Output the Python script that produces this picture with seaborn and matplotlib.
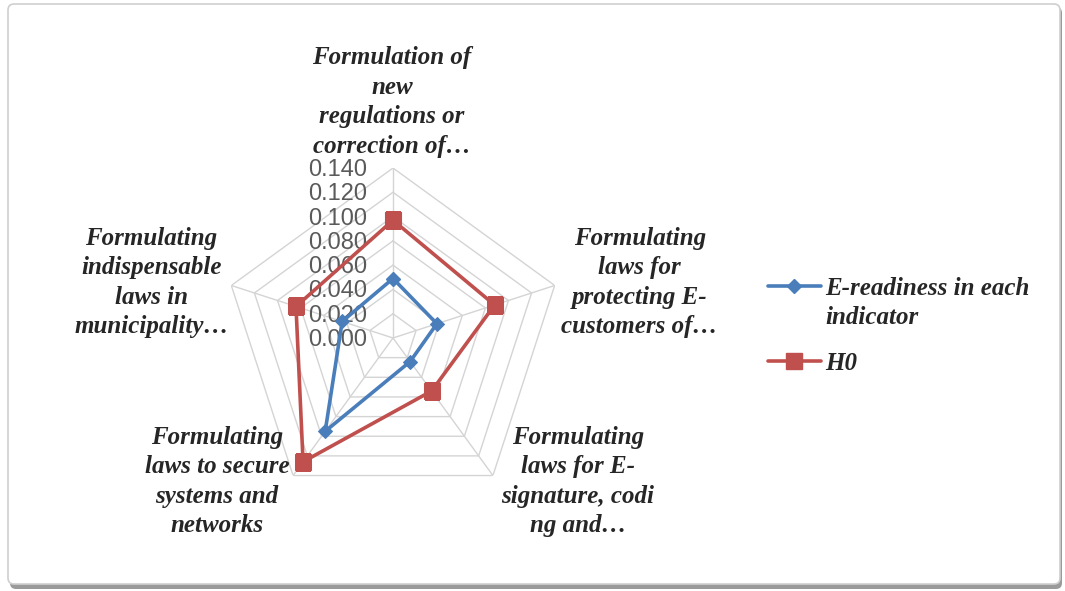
import numpy as np
import pandas as pd
import matplotlib
matplotlib.use("Agg")
import matplotlib.pyplot as plt
from matplotlib.patches import FancyBboxPatch
from matplotlib.lines import Line2D
import seaborn as sns

# Indicators (axis labels) and the two series
categories = [
    "Formulation of\nnew\nregulations or\ncorrection of…",
    "Formulating\nlaws for\nprotecting E-\ncustomers of…",
    "Formulating\nlaws for E-\nsignature, codi\nng and…",
    "Formulating\nlaws to secure\nsystems and\nnetworks",
    "Formulating\nindispensable\nlaws in\nmunicipality…",
]
e_readiness = [0.049, 0.038, 0.024, 0.095, 0.044]
h0 = [0.097, 0.088, 0.054, 0.126, 0.084]
series_names = ["E-readiness in each indicator", "H0"]
tick_values = [0.000, 0.020, 0.040, 0.060, 0.080, 0.100, 0.120, 0.140]

sns.set_style("white")
plt.rcParams["font.family"] = ["Liberation Serif", "DejaVu Serif"]

W, H, DPI = 1065, 591, 100
fig = plt.figure(figsize=(W / DPI, H / DPI), dpi=DPI)
fig.patch.set_facecolor("white")

# Outer chart frame with a soft drop shadow
shadow = FancyBboxPatch((0.10, 0.02), 10.52, 5.82,
                        boxstyle="round,pad=0,rounding_size=0.06",
                        transform=fig.dpi_scale_trans, facecolor="#9a9a9a",
                        edgecolor="none", zorder=-2)
frame = FancyBboxPatch((0.08, 0.07), 10.52, 5.80,
                       boxstyle="round,pad=0,rounding_size=0.06",
                       transform=fig.dpi_scale_trans, facecolor="white",
                       edgecolor="#cfcfcf", linewidth=1.2, zorder=-1)
fig.add_artist(shadow)
fig.add_artist(frame)

# Radar axes: centre at (393, 338) px from top, radius 170 px
cx, cy, R = 393, 338, 170
ax = fig.add_axes([(cx - R) / W, (H - cy - R) / H, 2 * R / W, 2 * R / H],
                  projection="polar")
ax.set_theta_zero_location("N")
ax.set_theta_direction(-1)
ax.set_ylim(0, tick_values[-1])
ax.grid(False)
ax.spines["polar"].set_visible(False)
ax.patch.set_visible(False)
ax.set_xticks([])
ax.set_yticks([])

n = len(categories)
angles = np.linspace(0, 2 * np.pi, n, endpoint=False)
angles_closed = np.append(angles, 2 * np.pi)

# Pentagon grid and spokes
grid_c = "#d4d4d4"
for t in tick_values[1:]:
    ax.plot(angles_closed, [t] * (n + 1), color=grid_c, lw=1.0, zorder=1)
for a in angles:
    ax.plot([a, a], [0, tick_values[-1]], color=grid_c, lw=1.0, zorder=1)

# Series as long-form data, closed back to the first indicator
rows = []
for name, vals in zip(series_names, [e_readiness, h0]):
    for a, v in zip(angles_closed, list(vals) + [vals[0]]):
        rows.append({"angle": a, "value": v, "series": name})
df = pd.DataFrame(rows)

blue, red = "#4a7ebb", "#c0504d"
styles = {series_names[0]: (blue, "D", 7), series_names[1]: (red, "s", 11)}
for name in [series_names[1], series_names[0]]:
    col, mk, ms = styles[name]
    sns.lineplot(data=df[df["series"] == name], x="angle", y="value",
                 sort=False, estimator=None, color=col, marker=mk,
                 markersize=ms, markeredgecolor=col, linewidth=2.6,
                 ax=ax, legend=False, zorder=3)
ax.set_xlabel("")
ax.set_ylabel("")

# Radial value labels along the top spoke
for t in tick_values:
    ax.annotate(f"{t:.3f}", xy=(0, t), xytext=(-26, -2),
                textcoords="offset pixels", ha="right", va="center",
                fontsize=17, color="#5a5a5a", family="Liberation Sans",
                zorder=2)

# Indicator labels around the outer ring
label_offsets = [(-1, 66), (85, 3), (85, -6), (-76, -6), (-80, 3)]
for a, lab, (dx, dy) in zip(angles, categories, label_offsets):
    ax.annotate(lab, xy=(a, tick_values[-1]), xytext=(dx, dy),
                textcoords="offset pixels", ha="center", va="center",
                fontsize=18, fontweight="bold", fontstyle="italic",
                color="#262626", linespacing=1.36, annotation_clip=False)

# Legend
handles = [
    Line2D([], [], color=blue, lw=2.6, marker="D", markersize=7),
    Line2D([], [], color=red, lw=2.6, marker="s", markersize=11),
]
leg = fig.legend(handles, ["E-readiness in each\nindicator", "H0"],
                 loc="upper left",
                 bbox_to_anchor=(768 / W, (H - 277) / H),
                 frameon=False, handlelength=2.1, handletextpad=0.2,
                 labelspacing=0.9, borderpad=0, borderaxespad=0,
                 prop={"family": "Liberation Serif", "size": 18,
                       "weight": "bold", "style": "italic"})
for txt in leg.get_texts():
    txt.set_color("#262626")
    txt.set_linespacing(1.36)
# keep each marker level with the first line of its label
for col_box in leg._legend_handle_box.get_children():
    for row in col_box.get_children():
        row.align = "top"

fig.savefig("out.png", dpi=DPI)
